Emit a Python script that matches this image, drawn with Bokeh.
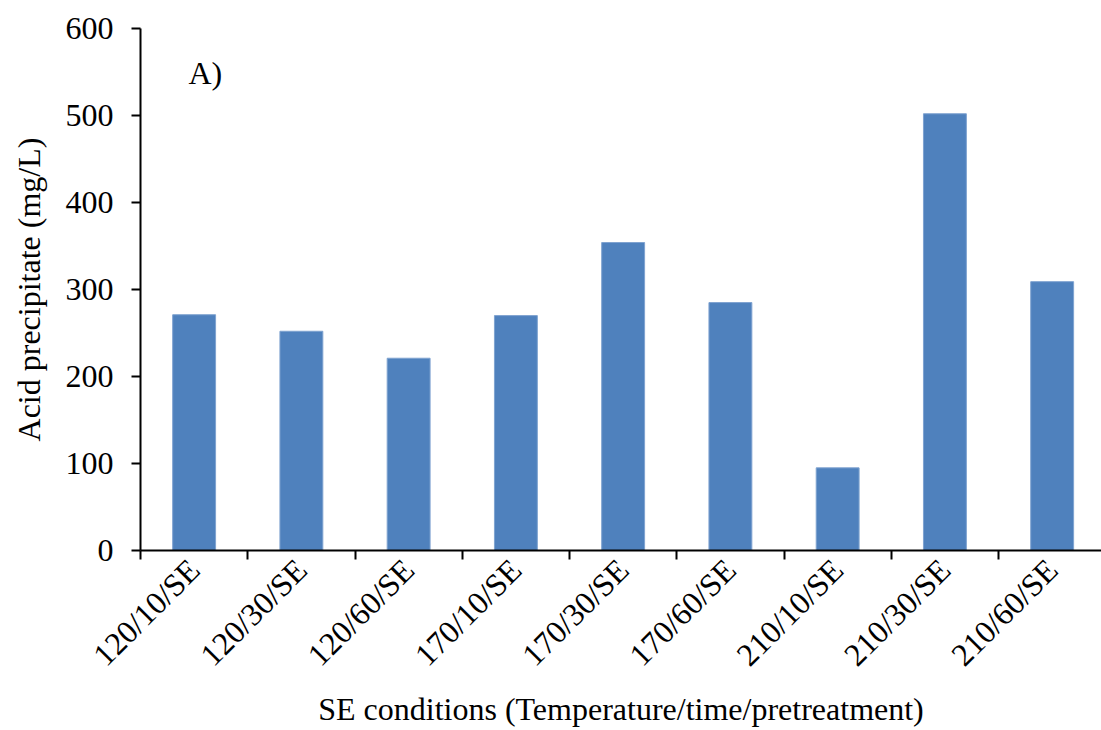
from math import pi
from bokeh.plotting import figure
from bokeh.models import FixedTicker, Range1d, Label
from bokeh.embed import file_html
from bokeh.resources import INLINE

categories = ["120/10/SE", "120/30/SE", "120/60/SE", "170/10/SE", "170/30/SE",
              "170/60/SE", "210/10/SE", "210/30/SE", "210/60/SE"]
values = [271, 252, 221, 270, 354, 285, 95, 502, 309]
y_ticks = [0, 100, 200, 300, 400, 500, 600]

FONT = "Liberation Serif"
FS = "32px"

p = figure(width=1101, height=730, output_backend="svg", toolbar_location=None,
           x_range=Range1d(0, 8.96), y_range=Range1d(0, 600),
           min_border_left=140, min_border_right=0, min_border_top=28, min_border_bottom=180)
p.outline_line_color = None
p.grid.visible = False
p.background_fill_color = "white"

xs = [i + 0.5 for i in range(len(categories))]
p.vbar(x=xs, top=values, width=0.4, bottom=0, fill_color="#4F81BD", line_color="#7FA3D0", line_width=1)

xa = p.xaxis[0]
xa.ticker = FixedTicker(ticks=xs, minor_ticks=list(range(len(categories) + 1)))
xa.major_label_overrides = {x: c for x, c in zip(xs, categories)}
xa.major_tick_out = 0
xa.major_tick_in = 0
xa.minor_tick_out = 9
xa.minor_tick_in = 0
xa.minor_tick_line_color = "black"
xa.minor_tick_line_width = 2
xa.axis_line_width = 2
xa.axis_line_color = "black"
xa.major_label_orientation = pi / 4
xa.major_label_text_font = FONT
xa.major_label_text_font_size = FS
xa.major_label_text_color = "black"
xa.major_label_standoff = 5
xa.axis_label = "SE conditions (Temperature/time/pretreatment)"
xa.axis_label_text_font = FONT
xa.axis_label_text_font_size = FS
xa.axis_label_text_font_style = "normal"
xa.axis_label_text_color = "black"
xa.axis_label_standoff = 2

ya = p.yaxis[0]
ya.ticker = FixedTicker(ticks=y_ticks, minor_ticks=[])
ya.major_tick_out = 9
ya.major_tick_in = 0
ya.major_tick_line_width = 2
ya.axis_line_width = 2
ya.axis_line_color = "black"
ya.major_label_text_font = FONT
ya.major_label_text_font_size = FS
ya.major_label_text_color = "black"
ya.major_label_standoff = 18
ya.major_label_orientation = "horizontal"
ya.axis_label = "Acid precipitate (mg/L)"
ya.axis_label_text_font = FONT
ya.axis_label_text_font_size = FS
ya.axis_label_text_font_style = "normal"
ya.axis_label_text_color = "black"
ya.axis_label_standoff = 16

p.add_layout(Label(x=48, y=460, x_units="screen", y_units="screen", text="A)",
                   text_font=FONT, text_font_size=FS, text_color="black"))

open("out.html", "w").write(file_html(p, INLINE))
